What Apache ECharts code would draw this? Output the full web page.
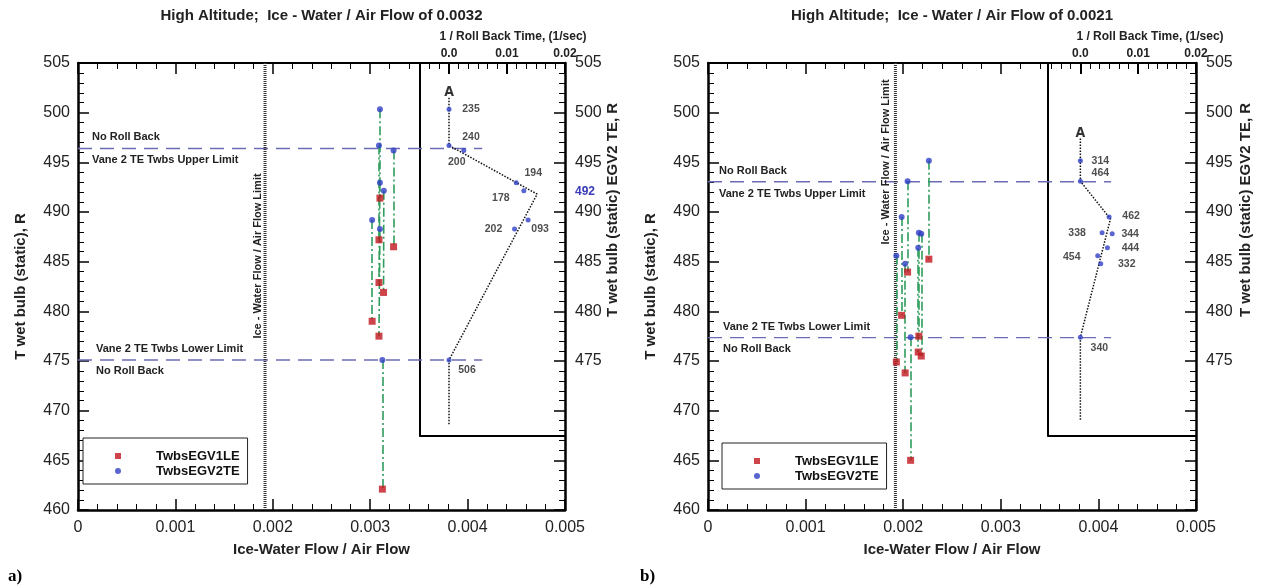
<!DOCTYPE html>
<html><head><meta charset="utf-8">
<script src="https://cdn.jsdelivr.net/npm/echarts@6/dist/echarts.min.js"></script>
<style>html,body{margin:0;padding:0;background:#fff}#c{width:1265px;height:588px}</style>
</head><body><div id="c"></div>
<script>
// ---------- tick labels / names ----------
const xTickLabels = ['0','0.001','0.002','0.003','0.004','0.005'];
const rightTickLabels = ['475','480','485','490','495','500','505'];
const insetTickLabels = ['0.0','0.01','0.02'];
const legendNames = ['TwbsEGV1LE','TwbsEGV2TE'];
const limitTexts = ['No Roll Back','Vane 2 TE Twbs Upper Limit','Vane 2 TE Twbs Lower Limit','No Roll Back'];

// ---------- panel a) ----------
const aFlow    = [0.00310,0.00309,0.00324,0.00310,0.00314,0.00302,0.00310,0.003125];
const aFlowLE  = [0.00310,0.00309,0.00324,0.00309,0.003137,0.00302,0.00309,0.003125];
const aEGV2TE  = [500.35,496.7,496.2,492.95,492.15,489.2,488.3,475.1];
const aEGV1LE  = [491.4,487.2,486.5,482.9,481.9,479.0,477.5,462.1];
const aRate    = [0,0,0.00255,0.0116,0.0129,0.01364,0.0113,0];
const aRunLabels = ['235','240','200','194','178','093','202','506'];
const aTrendRate = [0,0,0.0152,0,0];
const aTrendT    = [501.5,496.7,491.8,475.1,468.6];
const aArrowT = 502.0;
const aUpperLimit = 496.4, aLowerLimit = 475.1, aFlowLimit = 0.00192, aPeakT = 492;

// ---------- panel b) ----------
const bFlow    = [0.002263,0.002045,0.001984,0.00216,0.002185,0.002154,0.00193,0.00202,0.002076];
const bEGV2TE  = [495.16,493.1,489.5,487.9,487.8,486.4,485.6,484.8,477.4];
const bEGV1LE  = [485.25,483.95,479.6,477.5,475.5,475.9,474.9,473.8,465.0];
const bRate    = [0,0,0.00497,0.00376,0.0055,0.00468,0.0030,0.00352,0];
const bRunLabels = ['314','464','462','338','344','444','454','332','340'];
const bTrendRate = [0,0,0.0052,0,0];
const bTrendT    = [497.4,493.1,489.3,477.4,469.0];
const bArrowT = 497.9;
const bUpperLimit = 493.05, bLowerLimit = 477.35, bFlowLimit = 0.00192;

// ---------- styles / layout ----------
const FONT = '"Liberation Sans", Arial, Helvetica, sans-serif';
const aLabelOffsets = [[22,0],[22,-8],[-7,12],[17,-10],[-23,7],[12,9],[-21,0],[18,10]];
const bLabelOffsets = [[20,0],[20,-8],[22,-1],[-25,0],[18,0],[23,0],[-26,1],[26,0],[19,11]];
const TOP = 63, BOTTOM = 510, YMIN = 460, YMAX = 505, INSET_YMIN = 467.5;
const panels = [
  {left:78, right:565, insetLeft:420, insetMin:-0.005, dashEnd:0.00415,
   flow:aFlow, flowLE:aFlowLE, te:aEGV2TE, le:aEGV1LE, rate:aRate, runs:aRunLabels, offs:aLabelOffsets,
   trendR:aTrendRate, trendT:aTrendT, arrowT:aArrowT, up:aUpperLimit, lo:aLowerLimit, lim:aFlowLimit},
  {left:708, right:1196, insetLeft:1048, insetMin:-0.0056, dashEnd:0.00413,
   flow:bFlow, flowLE:bFlow, te:bEGV2TE, le:bEGV1LE, rate:bRate, runs:bRunLabels, offs:bLabelOffsets,
   trendR:bTrendRate, trendT:bTrendT, arrowT:bArrowT, up:bUpperLimit, lo:bLowerLimit, lim:bFlowLimit}
];
const INSET_MAX = 0.02;
const BLACK = '#000', TXT = '#222';
const RED = '#c0161e', BLUE = '#2f3fc4', GREEN = '#2e9d5b', DASHBLUE = '#6c6cb6';

const grid = [], xAxis = [], yAxis = [], series = [];
const plotH = BOTTOM - TOP;
const insetH = (YMAX - INSET_YMIN) / (YMAX - YMIN) * plotH;

panels.forEach((p, k) => {
  const g0 = grid.length;
  const W = p.right - p.left;
  const stripW = p.insetLeft - p.left;
  const insetW = p.right - p.insetLeft;
  grid.push({left:p.left, top:TOP, width:W, height:plotH});
  grid.push({left:p.left, top:TOP, width:stripW, height:plotH});
  grid.push({left:p.insetLeft, top:TOP, width:insetW, height:insetH});
  grid.push({left:p.insetLeft, top:TOP, width:insetW, height:insetH});
  const x0 = xAxis.length, y0 = yAxis.length;
  const tickCommon = {show:true, inside:true, length:11, lineStyle:{color:BLACK, width:1.5}};
  const minorCommon = {show:true, splitNumber:5, length:6, lineStyle:{color:BLACK, width:1}};
  xAxis.push({type:'value', gridIndex:g0, position:'bottom', min:0, max:0.005, interval:0.001,
    axisLine:{show:true, onZero:false, lineStyle:{color:BLACK, width:2.5}},
    axisTick:tickCommon, minorTick:minorCommon, splitLine:{show:false},
    axisLabel:{color:TXT, fontSize:16, fontFamily:FONT, margin:10,
      formatter:v => xTickLabels[Math.round(v/0.001)] || ''},
    name:'Ice-Water Flow / Air Flow', nameLocation:'middle', nameGap:32,
    nameTextStyle:{fontWeight:'bold', fontSize:15, color:TXT, fontFamily:FONT}});
  const stripMax = 0.005 * stripW / W;
  xAxis.push({type:'value', gridIndex:g0+1, position:'top', min:0, max:stripMax, interval:0.001,
    axisLine:{show:true, onZero:false, lineStyle:{color:BLACK, width:2}},
    axisTick:tickCommon, minorTick:minorCommon, splitLine:{show:false}, axisLabel:{show:false}});
  xAxis.push({type:'value', gridIndex:g0+2, position:'top', min:p.insetMin, max:INSET_MAX,
    axisLine:{show:true, onZero:false, lineStyle:{color:BLACK, width:2}},
    axisTick:{show:true, inside:true, length:11, lineStyle:{color:BLACK, width:2}, customValues:[0,0.01,0.02]},
    splitLine:{show:false},
    axisLabel:{show:true, customValues:[0,0.01,0.02], margin:3, color:TXT, fontSize:12, fontWeight:'bold', fontFamily:FONT,
      formatter:v => insetTickLabels[Math.round(v/0.01)] || ''}});
  xAxis.push({type:'value', gridIndex:g0+2, position:'bottom', min:p.insetMin, max:INSET_MAX,
    axisLine:{show:true, onZero:false, lineStyle:{color:BLACK, width:2}},
    axisTick:{show:false}, splitLine:{show:false}, axisLabel:{show:false}});
  const minorVals = [];
  for (let i = Math.ceil(p.insetMin/(0.01/6) - 1e-6); i*(0.01/6) <= INSET_MAX + 1e-9; i++) {
    if (i % 6 !== 0) minorVals.push(i*(0.01/6));
  }
  xAxis.push({type:'value', gridIndex:g0+3, position:'top', min:p.insetMin, max:INSET_MAX,
    axisLine:{show:false}, splitLine:{show:false}, axisLabel:{show:false},
    axisTick:{show:true, inside:true, length:6, lineStyle:{color:BLACK, width:1}, customValues:minorVals}});
  yAxis.push({type:'value', gridIndex:g0, position:'left', min:YMIN, max:YMAX, interval:5,
    axisLine:{show:true, onZero:false, lineStyle:{color:BLACK, width:2.5}},
    axisTick:tickCommon, minorTick:minorCommon, splitLine:{show:false},
    axisLabel:{color:TXT, fontSize:16, fontFamily:FONT, margin:8},
    name:'T wet bulb (static), R', nameLocation:'middle', nameGap:50, nameRotate:90,
    nameTextStyle:{fontWeight:'bold', fontSize:15, color:TXT, fontFamily:FONT}});
  yAxis.push({type:'value', gridIndex:g0, position:'right', min:YMIN, max:YMAX, interval:5,
    axisLine:{show:true, onZero:false, lineStyle:{color:BLACK, width:2.5}},
    axisTick:tickCommon, minorTick:minorCommon, splitLine:{show:false},
    axisLabel:{color:TXT, fontSize:16, fontFamily:FONT, margin:10,
      formatter:v => rightTickLabels.includes(String(v)) ? String(v) : ''}});
  yAxis.push({type:'value', gridIndex:g0+1, min:YMIN, max:YMAX, show:false});
  yAxis.push({type:'value', gridIndex:g0+2, position:'left', min:INSET_YMIN, max:YMAX,
    axisLine:{show:true, onZero:false, lineStyle:{color:BLACK, width:2}},
    axisTick:{show:false}, splitLine:{show:false}, axisLabel:{show:false}});
  yAxis.push({type:'value', gridIndex:g0+3, min:INSET_YMIN, max:YMAX, show:false});

  const M = {xAxisIndex:x0, yAxisIndex:y0};
  const I = {xAxisIndex:x0+2, yAxisIndex:y0+3};
  [p.up, p.lo].forEach(t => series.push(Object.assign({type:'line', silent:true, symbol:'none', z:2,
    data:[[0,t],[p.dashEnd,t]], lineStyle:{color:DASHBLUE, width:1.4, type:[14,8]}}, M)));
  series.push(Object.assign({type:'line', silent:true, symbol:'none', z:2,
    data:[[p.lim, YMIN],[p.lim, YMAX]], lineStyle:{color:'#333', width:3, type:[1,1]}}, M));
  series.push(Object.assign({type:'lines', coordinateSystem:'cartesian2d', silent:true, z:3,
    data:p.te.map((t,i) => ({coords:[[p.flow[i], t],[p.flowLE[i], p.le[i]]]})),
    lineStyle:{color:GREEN, width:1.6, type:[9,3,2,3], opacity:1}}, M));
  series.push(Object.assign({type:'scatter', name:legendNames[0], symbol:'rect', symbolSize:7, z:5,
    data:p.le.map((t,i) => [p.flowLE[i], t]),
    itemStyle:{color:RED, borderWidth:0}}, M));
  series.push(Object.assign({type:'scatter', name:legendNames[1], symbol:'circle', symbolSize:6, z:6,
    data:p.te.map((t,i) => [p.flow[i], t]), itemStyle:{color:BLUE}}, M));
  series.push(Object.assign({type:'line', silent:true, symbol:'none', z:4,
    data:p.trendR.map((r,i) => [r, p.trendT[i]]),
    lineStyle:{color:'#111', width:1.5, type:[1.5,1.5]}}, I));
  series.push(Object.assign({type:'scatter', silent:true, symbolSize:0, z:7, data:[[0, p.arrowT]],
    label:{show:true, position:'inside', formatter:'A', color:'#000', fontSize:14, fontWeight:'bold',
      fontFamily:'"Liberation Sans Narrow", "DejaVu Sans Condensed", sans-serif'}}, I));
  series.push(Object.assign({type:'scatter', name:'rollback'+k, symbol:'circle', symbolSize:5, z:8,
    data:p.rate.map((r,i) => ({value:[r, p.te[i]], label:{offset:p.offs[i]}})),
    itemStyle:{color:BLUE},
    label:{show:true, position:'inside', color:TXT, fontSize:10.5, fontWeight:'bold', fontFamily:FONT,
      formatter:pr => p.runs[pr.dataIndex]}}, I));
});

const mkLegend = (left, top) => ({left, top, orient:'vertical', itemWidth:6, itemHeight:6, itemGap:1,
  padding:[11,8,6,32], borderColor:'#222', borderWidth:1, backgroundColor:'#fff', selectedMode:false,
  itemStyle:{borderWidth:0},
  data:[{name:legendNames[0], icon:'rect'},{name:legendNames[1], icon:'circle'}],
  formatter:n => '{s|}' + n,
  textStyle:{fontFamily:FONT, fontWeight:'bold', fontSize:13, color:'#111', lineHeight:14, rich:{s:{width:30}}}});

const chart = echarts.init(document.getElementById('c'));
chart.setOption({
  animation:false, backgroundColor:'#fff',
  grid, xAxis, yAxis, series,
  legend:[mkLegend(83,438), mkLegend(722,443)]
});

const gt = (text, x, y, font, o={}) => ({type:'text', x, y, rotation:o.rot||0, silent:true, z:100,
  style:{text, x:0, y:0, font, fill:o.fill||TXT, align:o.align||'left', verticalAlign:'middle'}});
const BOLD = s => 'bold ' + s + 'px ' + FONT;
const g = [];
const titles = ['High Altitude;  Ice - Water / Air Flow of 0.0032','High Altitude;  Ice - Water / Air Flow of 0.0021'];
panels.forEach((p, k) => {
  const x0 = k*5, y0 = k*5;
  const px = (x, y) => chart.convertToPixel({xAxisIndex:x0, yAxisIndex:y0}, [x, y]);
  g.push(gt(titles[k], (p.left+p.right)/2, 16, BOLD(15), {align:'center'}));
  g.push(gt('1 / Roll Back Time, (1/sec)', p.right - 52 + (k ? 6 : 0), 37, BOLD(12), {align:'center'}));
  g.push(gt('T wet bulb (static) EGV2 TE, R', p.right + 48 + (k ? 2 : 0), 210, BOLD(15), {align:'center', rot:Math.PI/2}));
  const up = px(0, p.up)[1], lo = px(0, p.lo)[1];
  const tx = p.left + (k ? 11 : 14), tx2 = p.left + (k ? 15 : 18);
  g.push(gt(limitTexts[0], tx, up - 11, BOLD(11)));
  g.push(gt(limitTexts[1], tx, up + 12, BOLD(11)));
  g.push(gt(limitTexts[2], tx2, lo - 11, BOLD(11)));
  g.push(gt(limitTexts[3], tx2, lo + 11, BOLD(11)));
  const lx = px(p.lim, 0)[0];
  g.push(gt('Ice - Water Flow / Air Flow Limit', lx - (k ? 9 : 7), k ? 162 : 256, BOLD(11), {align:'center', rot:Math.PI/2}));
});
g.push(gt(String(aPeakT), panels[0].right + 10, chart.convertToPixel({xAxisIndex:0, yAxisIndex:0}, [0, aPeakT])[1], BOLD(12), {fill:'#3b3bb8'}));
g.push(gt('a)', 8, 577, 'bold 17px "Liberation Serif", "Times New Roman", serif', {fill:'#000'}));
g.push(gt('b)', 640, 577, 'bold 17px "Liberation Serif", "Times New Roman", serif', {fill:'#000'}));
chart.setOption({graphic:g});
</script></body></html>
